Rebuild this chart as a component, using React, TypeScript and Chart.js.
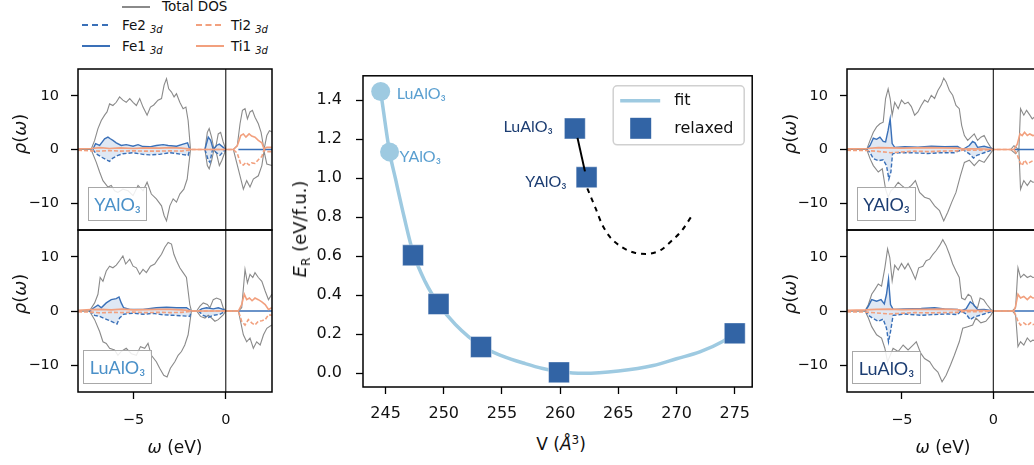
import React, { useEffect, useRef } from "react";
import { Chart, registerables } from "chart.js";

Chart.register(...registerables);

type P = [number, number | null];

/* ---------------- centre panel data ---------------- */
const volumeTicks = [245, 250, 255, 260, 265, 270, 275];
const energyTicks = [0, 0.2, 0.4, 0.6, 0.8, 1.0, 1.2, 1.4];
const volumeRange = [243.06, 276.5];
const energyRange = [-0.07, 1.525];

const fitV = [244.58, 245.34, 245.84, 246.6, 247.36, 248.4, 249.55, 251, 253.2, 255, 257, 258.5, 259.9, 262, 265, 268, 270, 272, 274, 275];
const fitE = [1.445, 1.135, 1.0, 0.8, 0.62, 0.47, 0.355, 0.25, 0.14, 0.09, 0.05, 0.025, 0.01, 0.0, 0.012, 0.04, 0.075, 0.11, 0.165, 0.205];

const guessV = [244.58, 245.34];
const guessE = [1.445, 1.135];
const guessNames = ["LuAlO₃", "YAlO₃"];

const relaxedV = [247.36, 249.55, 253.2, 259.9, 275.0, 261.26, 262.27];
const relaxedE = [0.605, 0.355, 0.135, 0.005, 0.205, 1.255, 1.005];
const relaxedNames = ["", "", "", "", "", "LuAlO₃", "YAlO₃"];

const linkV = [261.49, 262.13];
const linkE = [1.207, 1.035];

const pathV = [262.33, 263.03, 263.59, 264.29, 265.27, 266.4, 267.38, 268.64, 269.62, 270.46, 271.23];
const pathE = [0.948, 0.848, 0.765, 0.698, 0.648, 0.618, 0.612, 0.632, 0.682, 0.732, 0.8];

/* ---------------- DOS panels data ---------------- */
const dosXTicks = [-5, 0];
const dosYTicks = [-10, 0, 10];
const dosXRange = [-8, 2.5];
const dosYRange = [-15, 15];
const zeroLine: P[] = [[0, -15], [0, 15]];

// left top: YAlO3
const aTotalUp: P[] = [[-8, 0], [-7.29, 0], [-7.1, 1.7], [-6.92, 3.9], [-6.74, 5.4], [-6.56, 6.4], [-6.43, 7.0], [-6.29, 8.5], [-6.11, 8.2], [-5.93, 8.8], [-5.75, 9.8], [-5.57, 9.2], [-5.39, 8.8], [-5.2, 9.5], [-5.02, 8.8], [-4.84, 8.2], [-4.66, 9.5], [-4.48, 7.9], [-4.26, 6.4], [-4.08, 7.9], [-3.9, 8.3], [-3.67, 9.2], [-3.48, 9.5], [-3.34, 12.0], [-3.21, 13.2], [-3.09, 11.3], [-2.94, 10.7], [-2.8, 9.8], [-2.67, 10.4], [-2.49, 8.8], [-2.31, 7.6], [-2.16, 7.9], [-2.04, 5.4], [-1.91, 0], [-1.13, 0], [-1.0, 3.2], [-0.9, 3.9], [-0.77, 2.3], [-0.64, 0], [-0.53, 0.7], [-0.41, 2.9], [-0.28, 3.2], [-0.14, 1.4], [0, 0], [0.41, 0], [0.62, 0.7], [0.77, 4.8], [0.9, 7.3], [1.04, 7.6], [1.17, 5.7], [1.31, 7.0], [1.44, 7.3], [1.58, 6.0], [1.76, 4.8], [1.91, 3.2], [2.07, 0], [2.22, 2.6], [2.36, 3.5], [2.54, 3.2]];
const aTotalDn: P[] = [[-8, 0], [-7.29, 0], [-7.01, -2.4], [-6.83, -4.2], [-6.65, -5.8], [-6.38, -7.0], [-6.2, -6.7], [-6.02, -7.7], [-5.84, -8.0], [-5.57, -7.4], [-5.29, -7.7], [-5.02, -8.6], [-4.75, -6.7], [-4.48, -7.7], [-4.26, -6.1], [-4.03, -8.3], [-3.76, -9.2], [-3.48, -10.5], [-3.34, -12.3], [-3.21, -13.3], [-3.03, -10.5], [-2.85, -9.2], [-2.67, -9.8], [-2.49, -8.3], [-2.27, -7.4], [-2.09, -5.5], [-1.91, 0], [-1.13, 0], [-1.0, -3.0], [-0.9, -3.6], [-0.77, -2.1], [-0.64, 0], [-0.5, -0.8], [-0.35, -3.0], [-0.21, -2.0], [0, 0], [0.41, 0], [0.77, -4.9], [0.95, -7.4], [1.13, -5.8], [1.31, -7.0], [1.49, -5.5], [1.76, -4.9], [1.95, -3.0], [2.07, -0.3], [2.22, -2.7], [2.49, -3.0]];
const aFe1: P[] = [[-7.2, 0], [-7.05, 1.1], [-6.83, 0.75], [-6.56, 2.0], [-6.38, 2.3], [-6.25, 2.0], [-6.11, 1.7], [-5.93, 1.25], [-5.66, 0.75], [-5.39, 0.9], [-5.02, 0.6], [-4.75, 0.9], [-4.48, 0.55], [-4.12, 0.5], [-3.76, 0.75], [-3.39, 0.9], [-3.12, 0.75], [-2.67, 0.6], [-2.31, 1.0], [-2.07, 1.25], [-1.95, 0], [-1.6, null], [-1.13, 0], [-0.95, 2.3], [-0.82, 1.7], [-0.68, 0], [-0.5, 0.75], [-0.35, 1.0], [-0.14, 0.4], [0, 0], [0.3, null], [0.68, 0], [2.6, 0]];
const aFe2: P[] = [[-7.2, 0], [-7.01, -0.8], [-6.74, -1.4], [-6.47, -1.9], [-6.29, -2.2], [-6.11, -1.6], [-5.84, -1.1], [-5.57, -0.8], [-5.02, -0.6], [-4.48, -0.9], [-4.12, -1.0], [-3.58, -0.9], [-3.03, -0.6], [-2.67, -0.75], [-2.31, -0.95], [-2.04, -1.1], [-1.95, 0], [-1.6, null], [-1.13, 0], [-0.95, -2.0], [-0.86, -2.4], [-0.72, 0], [-0.5, -0.6], [-0.32, -1.1], [-0.14, -0.4], [0, 0]];
const aTi1: P[] = [[-8, 0.15], [-7.3, 0.2], [-6.8, 0.35], [-6.3, 0.2], [-5.7, 0.3], [-5.0, 0.2], [-4.4, 0.3], [-3.6, 0.25], [-3.0, 0.35], [-2.4, 0.25], [-1.95, 0.1], [-1.9, 0], [0.41, 0], [0.62, 0.7], [0.81, 2.6], [0.95, 2.9], [1.09, 2.3], [1.26, 2.9], [1.4, 2.5], [1.58, 2.3], [1.76, 1.7], [1.95, 1.25], [2.07, 0.1], [2.22, 0.4], [2.49, 0.4]];
const aTi2: P[] = [[-8, -0.15], [-7.3, -0.25], [-6.8, -0.3], [-6.3, -0.2], [-5.7, -0.3], [-5.0, -0.25], [-4.4, -0.3], [-3.6, -0.3], [-3.0, -0.25], [-2.4, -0.3], [-1.95, -0.1], [-1.9, 0], [0.41, 0], [0.62, -0.7], [0.81, -2.7], [0.95, -2.9], [1.09, -2.4], [1.26, -2.9], [1.4, -2.5], [1.58, -2.6], [1.76, -1.9], [1.95, -1.3], [2.07, -0.1], [2.22, -0.4], [2.49, -0.4]];

// left bottom: LuAlO3
const bTotalUp: P[] = [[-8, 0], [-7.38, 0], [-7.1, 1.5], [-6.92, 3.1], [-6.8, 6.2], [-6.65, 5.5], [-6.47, 7.4], [-6.29, 8.3], [-6.11, 8.0], [-5.93, 8.5], [-5.75, 9.3], [-5.57, 10.2], [-5.42, 8.7], [-5.2, 9.6], [-5.02, 8.3], [-4.84, 8.0], [-4.66, 6.8], [-4.48, 7.7], [-4.3, 7.1], [-4.08, 8.3], [-3.85, 8.7], [-3.67, 9.6], [-3.48, 10.5], [-3.3, 11.8], [-3.12, 12.7], [-2.94, 12.4], [-2.81, 10.5], [-2.67, 9.3], [-2.49, 8.0], [-2.31, 7.1], [-2.13, 6.2], [-1.95, 1.2], [-1.86, 0], [-1.58, 0], [-1.4, 0.9], [-1.22, 1.5], [-1.0, 1.2], [-0.86, 0.6], [-0.68, 2.1], [-0.5, 2.4], [-0.28, 2.1], [-0.14, 0.6], [0, 0], [0.68, 0], [0.86, 0.6], [1.04, 7.7], [1.17, 5.2], [1.31, 6.8], [1.46, 6.2], [1.58, 7.1], [1.76, 6.2], [1.95, 5.5], [2.13, 3.7], [2.31, 2.1], [2.49, 3.1]];
const bTotalDn: P[] = [[-8, 0], [-7.38, 0], [-7.1, -1.6], [-6.83, -3.8], [-6.65, -5.7], [-6.47, -6.0], [-6.29, -6.9], [-6.02, -7.2], [-5.84, -8.2], [-5.66, -7.5], [-5.39, -6.9], [-5.11, -7.9], [-4.84, -8.2], [-4.62, -6.6], [-4.39, -6.9], [-4.21, -6.0], [-4.03, -8.2], [-3.76, -9.4], [-3.58, -10.6], [-3.36, -11.9], [-3.18, -12.2], [-3.0, -10.6], [-2.76, -9.4], [-2.58, -8.2], [-2.4, -7.5], [-2.22, -6.3], [-2.04, -4.4], [-1.86, 0], [-1.58, 0], [-1.37, -1.0], [-1.13, -1.3], [-0.95, -0.8], [-0.77, -1.3], [-0.59, -1.9], [-0.41, -1.6], [-0.14, -0.7], [0, 0], [0.68, 0], [0.95, -4.4], [1.13, -5.7], [1.31, -5.0], [1.49, -6.9], [1.67, -5.7], [1.86, -6.3], [2.04, -4.4], [2.22, -3.2], [2.49, -2.6]];
const bFe1: P[] = [[-7.38, 0], [-7.1, 0.7], [-6.92, 1.1], [-6.74, 0.6], [-6.47, 1.5], [-6.2, 2.1], [-5.93, 2.3], [-5.78, 2.6], [-5.66, 1.5], [-5.53, 0.6], [-5.2, 0.3], [-4.48, 0.3], [-3.76, 0.6], [-3.21, 0.7], [-2.67, 0.6], [-2.13, 0.6], [-1.86, 0], [-1.7, null], [-1.49, 0], [-1.31, 0.4], [-1.04, 0.6], [-0.68, 0.4], [-0.41, 0.6], [-0.14, 0.3], [0, 0], [0.3, null], [0.68, 0], [2.6, 0]];
const bFe2: P[] = [[-7.38, 0], [-7.1, -0.8], [-6.83, -1.0], [-6.56, -1.4], [-6.29, -1.8], [-6.02, -2.2], [-5.89, -2.4], [-5.75, -1.3], [-5.53, -0.6], [-5.02, -0.4], [-4.48, -0.6], [-3.94, -0.45], [-3.39, -0.7], [-2.85, -0.8], [-2.31, -0.9], [-1.95, -1.0], [-1.86, 0], [-1.7, null], [-1.49, 0], [-1.22, -0.8], [-0.95, -1.2], [-0.68, -0.8], [-0.32, -0.6], [0, 0]];
const bTi1: P[] = [[-8, 0.15], [-7.3, 0.25], [-6.8, 0.3], [-6.2, 0.2], [-5.6, 0.35], [-5.0, 0.2], [-4.4, 0.25], [-3.6, 0.3], [-3.0, 0.3], [-2.4, 0.2], [-1.95, 0.1], [-1.86, 0], [0.68, 0], [0.86, 1.2], [1.0, 3.1], [1.13, 2.1], [1.28, 2.4], [1.42, 1.9], [1.58, 2.4], [1.76, 2.1], [1.95, 1.7], [2.13, 1.2], [2.31, 0.3], [2.49, 0.6]];
const bTi2: P[] = [[-8, -0.15], [-7.3, -0.2], [-6.8, -0.35], [-6.2, -0.25], [-5.6, -0.3], [-5.0, -0.2], [-4.4, -0.3], [-3.6, -0.25], [-3.0, -0.3], [-2.4, -0.25], [-1.95, -0.1], [-1.86, 0], [0.68, 0], [0.86, -1.9], [1.04, -2.6], [1.22, -1.6], [1.4, -2.2], [1.58, -2.6], [1.76, -1.9], [1.95, -1.8], [2.13, -1.6], [2.31, -0.7], [2.49, -0.8]];

// right top: YAlO3
const cTotalUp: P[] = [[-8, 0], [-6.92, 0], [-6.74, 1.7], [-6.56, 3.2], [-6.38, 4.2], [-6.2, 4.8], [-6.02, 5.1], [-5.89, 9.5], [-5.75, 11.3], [-5.64, 9.5], [-5.53, 6.4], [-5.39, 8.8], [-5.2, 7.6], [-5.02, 9.2], [-4.84, 8.5], [-4.66, 8.8], [-4.48, 8.0], [-4.3, 6.4], [-4.12, 7.0], [-3.94, 8.2], [-3.76, 9.2], [-3.58, 8.8], [-3.39, 10.1], [-3.21, 9.5], [-3.03, 11.0], [-2.85, 12.0], [-2.71, 13.3], [-2.58, 12.6], [-2.4, 11.0], [-2.22, 10.1], [-2.04, 8.2], [-1.86, 7.6], [-1.73, 4.5], [-1.58, 2.6], [-1.4, 1.7], [-1.22, 2.3], [-1.04, 2.9], [-0.86, 1.7], [-0.68, 2.3], [-0.5, 2.6], [-0.32, 1.4], [-0.14, 0.4], [0, 0], [0.95, 0], [1.13, 0.7], [1.31, 0.2], [1.4, 0], [1.49, 7.6], [1.67, 6.4], [1.82, 7.3], [2.0, 6.4], [2.13, 5.7], [2.3, 6.2], [2.5, 5.8]];
const cTotalDn: P[] = [[-8, 0], [-6.92, 0], [-6.74, -1.7], [-6.56, -3.0], [-6.29, -4.2], [-6.07, -3.6], [-5.89, -7.4], [-5.75, -8.9], [-5.6, -7.7], [-5.39, -7.0], [-5.2, -6.1], [-5.02, -6.7], [-4.75, -7.4], [-4.48, -6.7], [-4.26, -5.8], [-4.03, -8.0], [-3.76, -8.9], [-3.48, -9.2], [-3.21, -10.5], [-2.94, -11.4], [-2.71, -13.3], [-2.49, -11.7], [-2.27, -9.8], [-2.04, -8.0], [-1.8, -4.9], [-1.58, -2.4], [-1.31, -2.0], [-1.04, -3.0], [-0.77, -2.0], [-0.5, -2.4], [-0.23, -1.1], [0, 0], [0.95, 0], [1.22, -0.8], [1.4, 0], [1.49, -7.4], [1.67, -5.8], [1.86, -6.7], [2.04, -5.8], [2.16, -6.1], [2.5, -6.0]];
const cFe1: P[] = [[-6.92, 0], [-6.74, 0.75], [-6.56, 2.1], [-6.38, 1.9], [-6.2, 2.3], [-6.02, 1.5], [-5.89, 1.4], [-5.75, 3.6], [-5.64, 5.7], [-5.53, 1.1], [-5.39, 0.4], [-4.84, 0.5], [-4.12, 0.45], [-3.39, 0.6], [-2.67, 0.5], [-1.95, 0.55], [-1.67, 0], [-1.31, 0.75], [-1.13, 1.5], [-1.0, 1.25], [-0.86, 0.4], [-0.5, 0.6], [-0.14, 0.25], [0, 0], [0.5, null], [1.13, 0], [2.6, 0]];
const cFe2: P[] = [[-6.92, 0], [-6.74, -0.6], [-6.56, -1.7], [-6.29, -2.1], [-6.02, -1.9], [-5.84, -3.0], [-5.71, -5.5], [-5.6, -4.2], [-5.51, -0.8], [-5.2, -0.6], [-4.48, -0.6], [-3.58, -0.75], [-2.85, -0.6], [-2.13, -0.6], [-1.67, 0], [-1.31, -0.8], [-1.08, -1.6], [-0.9, -1.1], [-0.5, -0.6], [0, 0]];
const cTi1: P[] = [[-8, 0.15], [-6.9, 0.2], [-6.3, 0.35], [-5.6, 0.3], [-5.0, 0.25], [-4.3, 0.3], [-3.5, 0.35], [-2.8, 0.3], [-2.0, 0.25], [-1.6, 0.1], [-1.2, 0.15], [-0.5, 0.1], [0, 0], [1.13, 0], [1.31, 1.0], [1.46, 2.9], [1.58, 2.6], [1.71, 3.2], [1.86, 2.6], [2.0, 2.9], [2.16, 2.6], [2.5, 2.8]];
const cTi2: P[] = [[-8, -0.15], [-6.9, -0.2], [-6.3, -0.35], [-5.6, -0.6], [-5.2, -0.5], [-4.3, -0.3], [-3.5, -0.4], [-2.8, -0.3], [-2.0, -0.25], [-1.6, -0.1], [-1.2, -0.15], [-0.5, -0.1], [0, 0], [1.13, 0], [1.31, -1.0], [1.46, -2.4], [1.58, -3.0], [1.71, -2.0], [1.86, -2.7], [2.0, -2.4], [2.16, -2.1], [2.5, -2.4]];

// right bottom: LuAlO3
const dTotalUp: P[] = [[-8, 0], [-7.01, 0], [-6.83, 1.2], [-6.65, 3.1], [-6.47, 4.0], [-6.29, 5.0], [-6.11, 4.6], [-5.93, 8.0], [-5.78, 11.5], [-5.66, 9.9], [-5.53, 5.6], [-5.39, 8.5], [-5.2, 7.6], [-5.02, 8.8], [-4.84, 7.8], [-4.66, 8.8], [-4.48, 7.6], [-4.26, 5.9], [-4.08, 8.0], [-3.85, 8.3], [-3.67, 9.3], [-3.48, 9.6], [-3.3, 10.5], [-3.12, 11.2], [-2.94, 12.1], [-2.76, 13.2], [-2.58, 12.1], [-2.4, 10.5], [-2.22, 8.7], [-2.04, 7.4], [-1.86, 6.2], [-1.73, 2.4], [-1.55, 2.1], [-1.37, 3.1], [-1.22, 2.7], [-1.04, 0.9], [-0.86, 0.6], [-0.72, 2.4], [-0.53, 2.1], [-0.35, 1.2], [-0.14, 0.3], [0, 0], [1.04, 0], [1.22, 0.6], [1.35, 8.0], [1.49, 6.2], [1.67, 6.8], [1.86, 6.2], [2.04, 6.5], [2.16, 6.2], [2.5, 6.4]];
const dTotalDn: P[] = [[-8, 0], [-7.01, 0], [-6.83, -1.3], [-6.65, -2.9], [-6.38, -4.4], [-6.11, -5.0], [-5.93, -6.9], [-5.78, -9.4], [-5.66, -8.4], [-5.48, -6.9], [-5.2, -7.5], [-4.93, -6.3], [-4.66, -7.2], [-4.39, -6.3], [-4.21, -5.7], [-3.97, -7.8], [-3.76, -8.8], [-3.48, -9.4], [-3.25, -10.6], [-3.03, -11.3], [-2.8, -13.1], [-2.58, -11.9], [-2.34, -10.0], [-2.13, -8.2], [-1.86, -5.7], [-1.67, -3.2], [-1.4, -2.9], [-1.13, -2.6], [-0.95, -1.3], [-0.68, -2.2], [-0.41, -1.9], [-0.14, -0.8], [0, 0], [1.04, 0], [1.22, -0.7], [1.35, -6.6], [1.49, -5.7], [1.67, -6.3], [1.86, -5.0], [2.04, -5.7], [2.16, -5.4], [2.5, -5.6]];
const dFe1: P[] = [[-7.01, 0], [-6.83, 0.9], [-6.65, 2.1], [-6.38, 1.8], [-6.14, 2.1], [-5.96, 1.3], [-5.84, 3.1], [-5.73, 5.9], [-5.62, 1.2], [-5.48, 0.3], [-4.84, 0.4], [-3.94, 0.45], [-3.21, 0.6], [-2.67, 0.4], [-1.95, 0.3], [-1.77, 0], [-1.49, 0.4], [-1.26, 1.7], [-1.08, 1.2], [-0.86, 0.25], [-0.5, 0.3], [0, 0], [0.5, null], [1.13, 0], [2.6, 0]];
const dFe2: P[] = [[-7.01, 0], [-6.83, -0.8], [-6.56, -1.4], [-6.29, -1.9], [-6.02, -1.5], [-5.84, -3.2], [-5.73, -5.7], [-5.62, -3.8], [-5.48, -0.8], [-4.84, -0.55], [-3.94, -0.8], [-3.21, -0.65], [-2.49, -0.55], [-1.95, -0.65], [-1.77, 0], [-1.49, -0.55], [-1.26, -1.6], [-1.04, -1.1], [-0.5, -0.55], [0, 0]];
const dTi1: P[] = [[-8, 0.15], [-7.0, 0.2], [-6.4, 0.3], [-5.7, 0.35], [-5.0, 0.25], [-4.3, 0.3], [-3.5, 0.3], [-2.8, 0.35], [-2.0, 0.25], [-1.6, 0.1], [-1.2, 0.15], [-0.5, 0.1], [0, 0], [1.13, 0], [1.22, 0.9], [1.35, 3.1], [1.49, 2.4], [1.67, 2.7], [1.86, 2.1], [2.04, 2.7], [2.16, 2.4], [2.5, 2.5]];
const dTi2: P[] = [[-8, -0.15], [-7.0, -0.2], [-6.4, -0.35], [-5.7, -0.55], [-5.2, -0.45], [-4.3, -0.3], [-3.5, -0.35], [-2.8, -0.3], [-2.0, -0.25], [-1.6, -0.1], [-1.2, -0.15], [-0.5, -0.1], [0, 0], [1.13, 0], [1.22, -0.8], [1.35, -1.9], [1.49, -2.6], [1.67, -2.2], [1.86, -2.7], [2.04, -2.2], [2.16, -2.5], [2.5, -2.4]];

/* ---------------- styles ---------------- */
const FONT = '"DejaVu Sans", sans-serif';
const LABEL_FONT = 'Lato, "DejaVu Sans", sans-serif';
const TXT = "#111";
const GRAY = "#8a8a8a";
const BLUE = "#3a70b8";
const FEFILL = "rgba(58,112,184,0.16)";
const ORANGE = "#f2a07e";
const LIGHT = "#9ecae1";
const LIGHT_TXT = "#5a9fd0";
const SQUARE = "#3264a5";
const NAVY = "#1c3d72";

Chart.defaults.font.family = FONT;

type Panel = { totUp: P[]; totDn: P[]; fe1: P[]; fe2: P[]; ti1: P[]; ti2: P[] };
const panelA: Panel = { totUp: aTotalUp, totDn: aTotalDn, fe1: aFe1, fe2: aFe2, ti1: aTi1, ti2: aTi2 };
const panelB: Panel = { totUp: bTotalUp, totDn: bTotalDn, fe1: bFe1, fe2: bFe2, ti1: bTi1, ti2: bTi2 };
const panelC: Panel = { totUp: cTotalUp, totDn: cTotalDn, fe1: cFe1, fe2: cFe2, ti1: cTi1, ti2: cTi2 };
const panelD: Panel = { totUp: dTotalUp, totDn: dTotalDn, fe1: dFe1, fe2: dFe2, ti1: dTi1, ti2: dTi2 };

const pts = (arr: P[]) => arr.map(([x, y]) => ({ x, y }));
const xy = (xs: number[], ys: number[]) => xs.map((x, i) => ({ x, y: ys[i] }));
const minusFmt = (v: any) => (Number(v) < 0 ? "\u2212" + Math.abs(Number(v)) : String(v));

const framePlugin = {
  id: "frame",
  afterDatasetsDraw(chart: any) {
    const { ctx, chartArea } = chart;
    const { left, top, right, bottom } = chartArea;
    ctx.save();
    ctx.strokeStyle = "#000";
    ctx.lineWidth = 1.5;
    ctx.strokeRect(left, top, right - left, bottom - top);
    ctx.restore();
  },
};

type Geo = { axW: number; axH: number; padT: number; padR: number };

function axisX(min: number, max: number, ticks: number[], g: Geo, show: boolean, size: number, pad: number, fmt: (v: any) => string) {
  return {
    type: "linear",
    min,
    max,
    afterBuildTicks: (s: any) => {
      s.ticks = ticks.map((v) => ({ value: v }));
    },
    afterFit: (s: any) => {
      s.height = g.axH;
      s.paddingLeft = 0;
      s.paddingRight = 0;
    },
    ticks: { display: show, autoSkip: false, maxRotation: 0, padding: pad, color: TXT, font: { size, family: FONT }, callback: fmt },
    grid: { drawOnChartArea: false, drawTicks: show, tickLength: 7, tickColor: "#000", tickWidth: 1.3 },
    border: { display: false },
  };
}
function axisY(min: number, max: number, ticks: number[], g: Geo, size: number, pad: number, fmt: (v: any) => string) {
  return {
    type: "linear",
    min,
    max,
    afterBuildTicks: (s: any) => {
      s.ticks = ticks.map((v) => ({ value: v }));
    },
    afterFit: (s: any) => {
      s.width = g.axW;
      s.paddingTop = 0;
      s.paddingBottom = 0;
    },
    ticks: { autoSkip: false, padding: pad, color: TXT, font: { size, family: FONT }, callback: fmt },
    grid: { drawOnChartArea: false, drawTicks: true, tickLength: 7, tickColor: "#000", tickWidth: 1.3 },
    border: { display: false },
  };
}

function dosConfig(p: Panel, showX: boolean) {
  return (g: Geo): any => ({
    type: "line",
    data: {
      datasets: [
        { data: pts(zeroLine), borderColor: "#000", borderWidth: 1, order: 0 },
        { data: pts(p.ti1), borderColor: ORANGE, borderWidth: 1.6, order: 1 },
        { data: pts(p.ti2), borderColor: ORANGE, borderWidth: 1.6, borderDash: [4, 2], order: 2 },
        { data: pts(p.fe1), borderColor: BLUE, borderWidth: 1.4, fill: "origin", backgroundColor: FEFILL, order: 3 },
        { data: pts(p.fe2), borderColor: BLUE, borderWidth: 1.4, borderDash: [4, 2], fill: "origin", backgroundColor: FEFILL, order: 4 },
        { data: pts(p.totUp), borderColor: GRAY, borderWidth: 1.1, order: 5 },
        { data: pts(p.totDn), borderColor: GRAY, borderWidth: 1.1, order: 6 },
      ],
    },
    options: {
      animation: false,
      responsive: false,
      events: [],
      layout: { padding: { top: g.padT, right: g.padR, left: 0, bottom: 0 } },
      elements: { point: { radius: 0 }, line: { tension: 0 } },
      plugins: { legend: { display: false }, tooltip: { enabled: false } },
      scales: {
        x: axisX(dosXRange[0], dosXRange[1], dosXTicks, g, showX, 14.5, 13, minusFmt),
        y: axisY(dosYRange[0], dosYRange[1], dosYTicks, g, 14.5, 12, minusFmt),
      },
    },
    plugins: [framePlugin],
  });
}

const labelPlugin = {
  id: "compoundLabels",
  afterDatasetsDraw(chart: any) {
    const { ctx } = chart;
    const sx = chart.scales.x;
    const sy = chart.scales.y;
    const guessOffset = [[16, 2], [10, 5]];
    const relaxedOffset: Record<number, number[]> = { 5: [-22, -2], 6: [-20, 5] };
    ctx.save();
    ctx.font = `16px ${LABEL_FONT}`;
    ctx.textBaseline = "middle";
    ctx.textAlign = "left";
    ctx.fillStyle = LIGHT_TXT;
    guessNames.forEach((n, i) => {
      ctx.fillText(n, sx.getPixelForValue(guessV[i]) + guessOffset[i][0], sy.getPixelForValue(guessE[i]) + guessOffset[i][1]);
    });
    ctx.textAlign = "right";
    ctx.fillStyle = NAVY;
    relaxedNames.forEach((n, i) => {
      if (!n) return;
      const o = relaxedOffset[i];
      ctx.fillText(n, sx.getPixelForValue(relaxedV[i]) + o[0], sy.getPixelForValue(relaxedE[i]) + o[1]);
    });
    ctx.restore();
  },
};

const legendPlugin = {
  id: "innerLegend",
  afterDraw(chart: any) {
    const { ctx, chartArea } = chart;
    const w = 131;
    const h = 59;
    const x = chartArea.right - 8 - w;
    const y = chartArea.top + 10;
    ctx.save();
    ctx.beginPath();
    ctx.roundRect(x, y, w, h, 4);
    ctx.fillStyle = "rgba(255,255,255,0.85)";
    ctx.fill();
    ctx.strokeStyle = "#d0d0d0";
    ctx.lineWidth = 1.5;
    ctx.stroke();
    ctx.strokeStyle = LIGHT;
    ctx.lineWidth = 3.5;
    ctx.beginPath();
    ctx.moveTo(x + 7, y + 15);
    ctx.lineTo(x + 47, y + 15);
    ctx.stroke();
    ctx.fillStyle = SQUARE;
    ctx.fillRect(x + 17, y + 32, 21, 21);
    ctx.fillStyle = TXT;
    ctx.font = `16px ${FONT}`;
    ctx.textBaseline = "middle";
    ctx.textAlign = "left";
    ctx.fillText("fit", x + 61, y + 15);
    ctx.fillText("relaxed", x + 61, y + 43);
    ctx.restore();
  },
};

const centerConfig = (g: Geo): any => ({
  type: "line",
  data: {
    datasets: [
      { label: "guess", data: xy(guessV, guessE), showLine: false, pointRadius: 9.5, pointStyle: "circle", pointBackgroundColor: LIGHT, pointBorderColor: LIGHT, pointBorderWidth: 0, order: 1 },
      { label: "link", data: xy(linkV, linkE), borderColor: "#000", borderWidth: 2, pointRadius: 0, order: 2 },
      { label: "relaxed", data: xy(relaxedV, relaxedE), showLine: false, pointStyle: "rect", pointRadius: 14.8, pointBackgroundColor: SQUARE, pointBorderColor: "rgba(255,255,255,0.45)", pointBorderWidth: 1, order: 3 },
      { label: "path", data: xy(pathV, pathE), borderColor: "#000", borderWidth: 2, borderDash: [5, 5], pointRadius: 0, cubicInterpolationMode: "monotone", order: 4 },
      { label: "fit", data: xy(fitV, fitE), borderColor: LIGHT, borderWidth: 3.5, pointRadius: 0, cubicInterpolationMode: "monotone", order: 5 },
    ],
  },
  options: {
    animation: false,
    responsive: false,
    events: [],
    layout: { padding: { top: g.padT, right: g.padR, left: 0, bottom: 0 } },
    plugins: { legend: { display: false }, tooltip: { enabled: false } },
    scales: {
      x: axisX(volumeRange[0], volumeRange[1], volumeTicks, g, true, 16, 10, (v: any) => String(v)),
      y: axisY(energyRange[0], energyRange[1], energyTicks, g, 16, 14, (v: any) => Number(v).toFixed(1)),
    },
  },
  plugins: [framePlugin, labelPlugin, legendPlugin],
});

function ChartBox({ area, geo, make }: { area: number[]; geo: Geo; make: (g: Geo) => any }) {
  const ref = useRef<HTMLCanvasElement>(null);
  const left = area[0] - geo.axW;
  const top = area[1] - geo.padT;
  const width = area[2] - area[0] + geo.axW + geo.padR;
  const height = area[3] - area[1] + geo.padT + geo.axH;
  useEffect(() => {
    const chart = new Chart(ref.current as HTMLCanvasElement, make(geo));
    return () => chart.destroy();
  }, []);
  return <canvas ref={ref} width={width} height={height} style={{ position: "absolute", left, top, width, height }} />;
}

const abs = (x: number, y: number, extra: React.CSSProperties = {}): React.CSSProperties => ({
  position: "absolute",
  left: x,
  top: y,
  whiteSpace: "nowrap",
  lineHeight: 1,
  fontFamily: FONT,
  color: TXT,
  ...extra,
});

function LegendLine({ x, y, w, color, dashed }: { x: number; y: number; w: number; color: string; dashed: boolean }) {
  return <div style={{ position: "absolute", left: x, top: y - 1, width: w, height: 0, borderTop: `2px ${dashed ? "dashed" : "solid"} ${color}` }} />;
}

function LegendText({ x, y, main, sub }: { x: number; y: number; main: string; sub?: string }) {
  return (
    <div style={abs(x, y, { transform: "translateY(-50%)", fontSize: 13.5 })}>
      {main}
      {sub ? <span style={{ fontStyle: "italic", fontSize: 10, position: "relative", top: 3, marginLeft: 4 }}>{sub}</span> : null}
    </div>
  );
}

function BoxLabel({ x, y, w, h, text, color }: { x: number; y: number; w: number; h: number; text: string; color: string }) {
  return (
    <div
      style={{
        position: "absolute",
        left: x,
        top: y,
        width: w,
        height: h,
        boxSizing: "border-box",
        border: "1px solid #a8a8a8",
        background: "rgba(255,255,255,0.85)",
        display: "flex",
        alignItems: "center",
        justifyContent: "center",
        fontFamily: LABEL_FONT,
        fontSize: 18,
        color,
      }}
    >
      {text}
    </div>
  );
}

function RhoLabel({ x, y }: { x: number; y: number }) {
  return (
    <div style={abs(x, y, { transform: "translate(-50%,-50%) rotate(-90deg)", fontSize: 18 })}>
      <i>ρ</i>(<i>ω</i>)
    </div>
  );
}
function OmegaLabel({ x, y }: { x: number; y: number }) {
  return (
    <div style={abs(x, y, { transform: "translate(-50%,-50%)", fontSize: 17 })}>
      <i>ω</i> (eV)
    </div>
  );
}

export default function App() {
  const dosGeo: Geo = { axW: 70, axH: 40, padT: 6, padR: 6 };
  const cGeo: Geo = { axW: 75, axH: 45, padT: 8, padR: 8 };
  return (
    <div style={{ position: "fixed", left: 0, top: 0, width: 1034, height: 465, overflow: "hidden", background: "#fff" }}>
      <ChartBox area={[78, 69, 272, 230]} geo={dosGeo} make={dosConfig(panelA, false)} />
      <ChartBox area={[78, 230, 272, 392]} geo={dosGeo} make={dosConfig(panelB, true)} />
      <ChartBox area={[847, 69, 1039, 230]} geo={dosGeo} make={dosConfig(panelC, false)} />
      <ChartBox area={[847, 230, 1039, 392]} geo={dosGeo} make={dosConfig(panelD, true)} />
      <ChartBox area={[363, 68, 760, 387]} geo={cGeo} make={centerConfig} />

      {/* DOS legend */}
      <LegendLine x={122} y={7} w={28} color={GRAY} dashed={false} />
      <LegendText x={162} y={7} main="Total DOS" />
      <LegendLine x={82} y={25} w={26} color={BLUE} dashed={true} />
      <LegendText x={122} y={26} main="Fe2" sub="3d" />
      <LegendLine x={196} y={25} w={25} color={ORANGE} dashed={true} />
      <LegendText x={231} y={26} main="Ti2" sub="3d" />
      <LegendLine x={82} y={46} w={28} color={BLUE} dashed={false} />
      <LegendText x={122} y={47} main="Fe1" sub="3d" />
      <LegendLine x={196} y={46} w={28} color={ORANGE} dashed={false} />
      <LegendText x={231} y={47} main="Ti1" sub="3d" />

      {/* compound boxes */}
      <BoxLabel x={88} y={187} w={59} h={34} text="YAlO₃" color="#4a90c8" />
      <BoxLabel x={83} y={350} w={69} h={34} text="LuAlO₃" color="#4a90c8" />
      <BoxLabel x={857} y={187} w={59} h={34} text="YAlO₃" color={NAVY} />
      <BoxLabel x={852} y={351} w={69} h={33} text="LuAlO₃" color={NAVY} />

      {/* axis titles */}
      <RhoLabel x={20} y={134} />
      <RhoLabel x={20} y={294} />
      <RhoLabel x={790} y={134} />
      <RhoLabel x={790} y={294} />
      <OmegaLabel x={175} y={447} />
      <OmegaLabel x={943} y={447} />
      <div style={abs(300, 229, { transform: "translate(-50%,-50%) rotate(-90deg)", fontSize: 18 })}>
        <i>E</i>
        <span style={{ fontSize: 12, position: "relative", top: 4 }}>R</span> (eV/f.u.)
      </div>
      <div style={abs(561, 444, { transform: "translate(-50%,-50%)", fontSize: 17 })}>
        V (<i>Å</i>
        <span style={{ fontSize: 12, position: "relative", top: -6 }}>3</span>)
      </div>
    </div>
  );
}
